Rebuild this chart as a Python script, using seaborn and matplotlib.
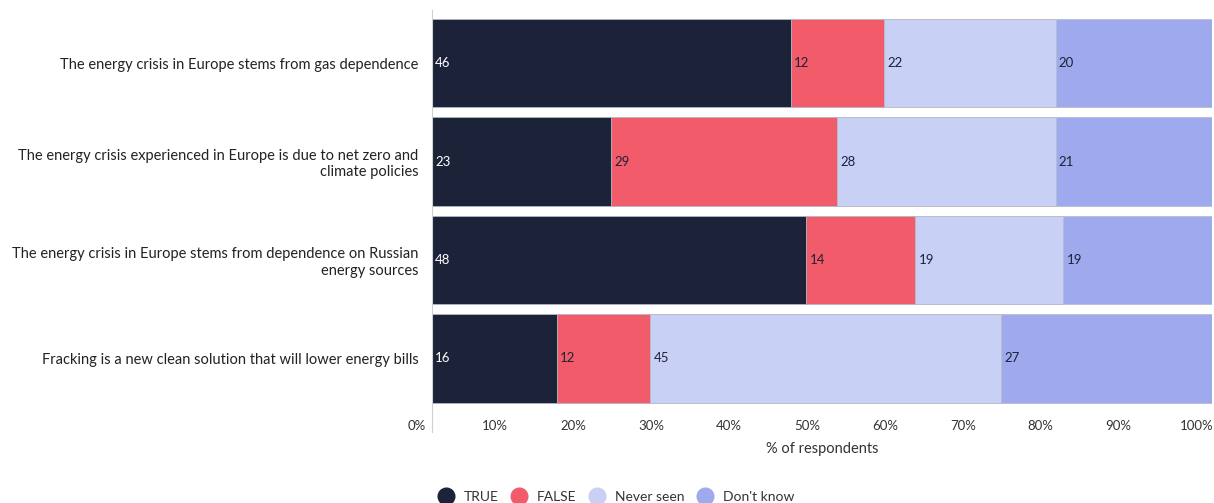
import numpy as np
import pandas as pd
import matplotlib
matplotlib.use('Agg')
import matplotlib.pyplot as plt
import matplotlib.transforms as mtransforms
from matplotlib.lines import Line2D
import seaborn as sns

questions = [
    'The energy crisis in Europe stems from gas dependence',
    'The energy crisis experienced in Europe is due to net zero and\nclimate policies',
    'The energy crisis in Europe stems from dependence on Russian\nenergy sources',
    'Fracking is a new clean solution that will lower energy bills',
]
answers = ['TRUE', 'FALSE', 'Never seen', "Don't know"]
true_vals = [46, 23, 48, 16]
false_vals = [12, 29, 14, 12]
never_vals = [22, 28, 19, 45]
dontknow_vals = [20, 21, 19, 27]
ticks = [0, 10, 20, 30, 40, 50, 60, 70, 80, 90, 100]

colors = ['#1c2338', '#f25c6a', '#c9d0f5', '#9ea9ee']
text_colors = ['white', '#1c2338', '#1c2338', '#1c2338']

sns.set_style('white')
plt.rcParams['font.family'] = ['Lato', 'DejaVu Sans']

df = pd.DataFrame({'question': questions, 'TRUE': true_vals, 'FALSE': false_vals,
                   'Never seen': never_vals, "Don't know": dontknow_vals})
cum = df[answers].cumsum(axis=1)
start = cum - df[answers]

fig, ax = plt.subplots(figsize=(12.14, 5.03), dpi=100)
fig.subplots_adjust(left=0.356, right=0.998, top=0.98, bottom=0.182)

# draw stacked bars from the longest cumulative total down
for ans, col in reversed(list(zip(answers, colors))):
    sns.barplot(x=cum[ans], y=df['question'], color=col, orient='h', width=0.9,
                edgecolor='#b8bccb', linewidth=0.6, ax=ax, saturation=1)

for ans, tc in zip(answers, text_colors):
    for i in range(len(df)):
        ax.text(start.loc[i, ans] + 0.4, i, str(df.loc[i, ans]), va='center', ha='left',
                fontsize=9.5, color=tc)

ax.set_xlim(0, 100)
ax.set_ylim(3.54, -0.54)
ax.set_xticks(ticks)
ax.set_xticklabels([f'{t}%' for t in ticks], fontsize=9.5, color='#333333')
ax.tick_params(axis='x', length=0, pad=6)
ax.tick_params(axis='y', length=0, pad=10, labelsize=10.5, labelcolor='#222222')
# tick labels sit a little to the left of the bar scale, as in the original
offset = mtransforms.ScaledTranslation(-15 / 100, 0, fig.dpi_scale_trans)
for lab in ax.get_xticklabels():
    lab.set_transform(lab.get_transform() + offset)
ax.set_xlabel('% of respondents', fontsize=10.5, color='#333333', labelpad=7)
ax.set_ylabel('')
for s in ['top', 'right', 'bottom']:
    ax.spines[s].set_visible(False)
ax.spines['left'].set_color('#d0d0d0')
ax.spines['left'].set_bounds(3.75, -0.54)
ax.spines['left'].set_clip_on(False)

handles = [Line2D([], [], marker='o', linestyle='', markersize=12, markerfacecolor=c,
                  markeredgecolor=c) for c in colors]
fig.legend(handles, answers, loc='lower center', ncol=4, frameon=False, fontsize=10,
           bbox_to_anchor=(0.505, -0.025), handletextpad=0.3, columnspacing=0.45,
           labelcolor='#333333')

fig.savefig('out.png', dpi=100)
